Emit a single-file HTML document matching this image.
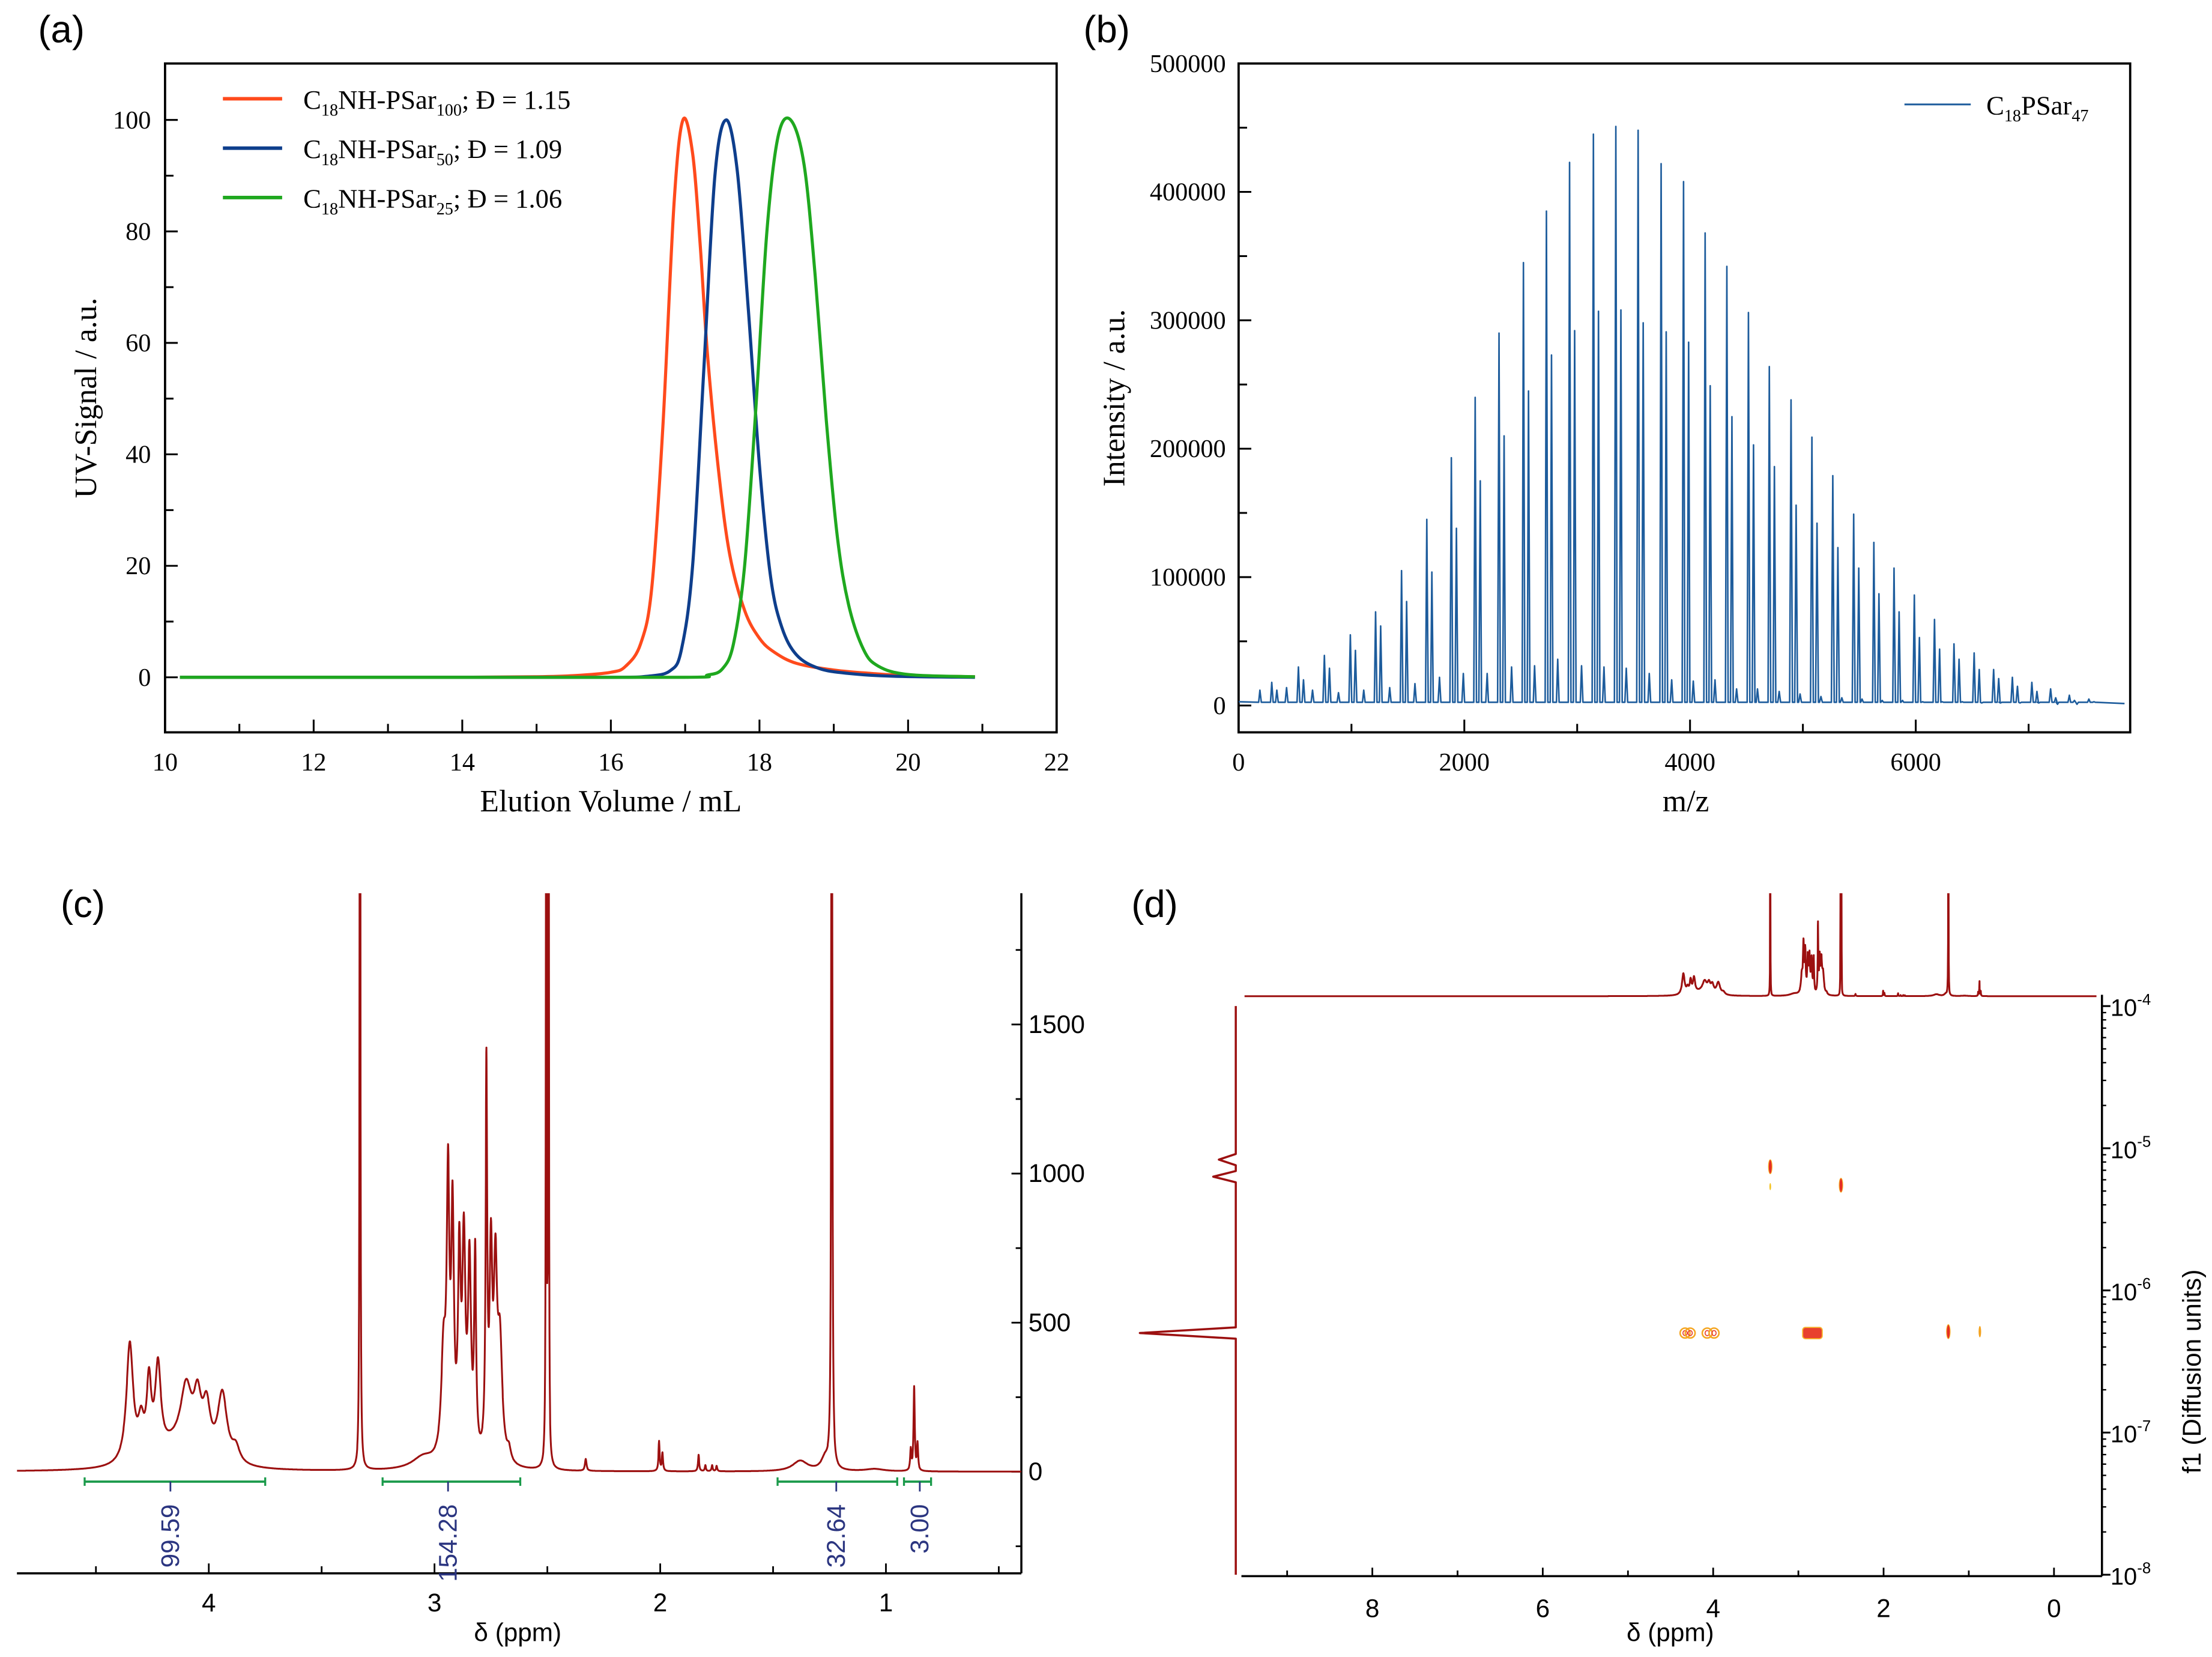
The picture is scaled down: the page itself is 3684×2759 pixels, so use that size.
<!DOCTYPE html>
<html><head><meta charset="utf-8"><style>
html,body{margin:0;padding:0;background:#fff;}
svg{display:block;}
.serif{font-family:"Liberation Serif",serif;}
.sans{font-family:"Liberation Sans","DejaVu Sans",sans-serif;}
</style></head><body>
<svg id="fig" xmlns="http://www.w3.org/2000/svg" width="3684" height="2759" viewBox="0 0 1568 1174.3">
<rect x="0" y="0" width="1568" height="1174.3" fill="#fff"/>
<defs>
<clipPath id="clipA"><rect x="117" y="45" width="632" height="474"/></clipPath>
<clipPath id="clipB"><rect x="878" y="45" width="632" height="474"/></clipPath>
<clipPath id="clipC"><rect x="12" y="633" width="712" height="482"/></clipPath>
<clipPath id="clipD"><rect x="878" y="633" width="612" height="80"/></clipPath>
</defs>
<text x="27" y="30" class="sans" font-size="27">(a)</text>
<text x="768" y="30" class="sans" font-size="27">(b)</text>
<text x="43" y="650" class="sans" font-size="27">(c)</text>
<text x="802" y="650" class="sans" font-size="27">(d)</text>
<text class="serif" font-size="22" text-anchor="middle" transform="translate(68,282) rotate(-90)">UV-Signal / a.u.</text>
<text class="serif" font-size="22" text-anchor="middle" x="433" y="575">Elution Volume / mL</text>
<text class="serif" font-size="22" text-anchor="middle" transform="translate(797,282) rotate(-90)">Intensity / a.u.</text>
<text class="serif" font-size="22" text-anchor="middle" x="1195" y="575">m/z</text>
<text class="sans" font-size="18" text-anchor="middle" x="367" y="1163">δ (ppm)</text>
<text class="sans" font-size="18" text-anchor="middle" x="1184" y="1163">δ (ppm)</text>
<text class="sans" font-size="18" text-anchor="middle" transform="translate(1560,972) rotate(-90)">f1 (Diffusion units)</text>
</svg>
<script>
// ---------- data: panel a (GPC) ----------
const gpcRedX=[10.2,12,14,15,15.5,16,16.2,16.4,16.55,16.7,16.85,16.97,17.1,17.2,17.3,17.45,17.6,17.8,18,18.2,18.5,19,19.5,20,20.9];
const gpcRedY=[0,0,0,0.1,0.3,0.9,2,6,16,45,85,100,94,78,58,37,22,12,7,4.5,2.5,1.3,0.7,0.3,0.1];
const gpcBlueX=[10.2,14,16,16.5,16.8,16.95,17.1,17.25,17.4,17.55,17.7,17.85,18,18.15,18.3,18.5,18.8,19.2,19.8,20.9];
const gpcBlueY=[0,0,0,0.2,1.2,5,20,55,90,100,91,66,38,18,9,4,1.6,0.7,0.2,0];
const gpcGreenX=[10.2,14,17,17.3,17.5,17.65,17.8,17.95,18.1,18.25,18.42,18.6,18.75,18.9,19.05,19.2,19.4,19.6,20,20.9];
const gpcGreenY=[0,0,0,0.4,1.5,6,20,48,80,97,100,92,72,46,25,13,5,2,0.5,0.1];
const xTicksA=[10,12,14,16,18,20,22];
const yTicksA=[0,20,40,60,80,100];
// ---------- data: panel b (MALDI) ----------
const msMainMz=[294,530,760,990,1214,1444,1668,1885,2096,2307,2524,2728,2933,3144,3342,3540,3744,3942,4134,4326,4518,4703,4895,5080,5265,5450,5629,5808,5987,6166,6339,6517,6690,6856,7029,7195,7361,7534];
const msMainInt=[18000,30000,39000,55000,73000,105000,145000,193000,240000,290000,345000,385000,423000,445000,451000,448000,422000,408000,368000,342000,306000,264000,238000,209000,179000,149000,127000,107000,86000,67000,48000,41000,28000,22000,18000,13000,8000,5000];
const msSecInt=[12000,20000,29000,43000,62000,81000,104000,138000,175000,210000,245000,273000,292000,307000,308000,298000,291000,283000,249000,225000,203000,186000,156000,142000,123000,107000,87000,73000,53000,44000,36000,28000,21000,15000,11000,6000,4000,3000];
const msMinorInt=[12000,14000,12000,10000,12000,14000,17000,22000,25000,25000,30000,31000,36000,31000,30000,29000,25000,20000,19000,20000,13000,13000,11000,9000,7000,6000,5000,4000,4000,3000,3000,3000,2000,2000,2000,2000,1000,1000];
const xTicksB=[0,2000,4000,6000];
const yTicksB=[0,100000,200000,300000,400000,500000];
// ---------- data: panel c/d (1H NMR) ----------
const nmrPos=[4.35,4.30,4.265,4.225,4.15,4.10,4.05,4.01,3.94,3.88,3.33,3.05,2.96,2.94,2.92,2.89,2.87,2.845,2.82,2.77,2.75,2.73,2.71,2.67,2.505,2.495,2.33,2.005,1.99,1.83,1.80,1.77,1.75,1.38,1.27,1.24,1.05,0.89,0.875,0.86];
const nmrHeight=[400,110,240,290,70,210,170,160,230,50,8000,40,350,880,780,640,690,640,660,1280,650,600,380,40,8000,8000,40,100,60,55,20,20,18,35,40,8000,8,70,280,90];
const nmrWidth=[0.018,0.015,0.012,0.015,0.1,0.03,0.02,0.02,0.025,0.02,0.0012,0.06,0.012,0.007,0.007,0.007,0.008,0.008,0.005,0.004,0.007,0.009,0.012,0.01,0.001,0.001,0.004,0.003,0.003,0.003,0.003,0.003,0.003,0.04,0.02,0.0015,0.05,0.003,0.003,0.003];
const xTicksC=[4,3,2,1];
const yTicksC=[0,500,1000,1500];
const integStart=[4.55,3.23,1.48,0.92];
const integEnd=[3.75,2.62,0.95,0.80];
const integMid=[4.17,2.94,1.22,0.85];
const integLabels=["99.59","154.28","32.64","3.00"];
// ---------- data: panel d (DOSY) ----------
const xTicksD=[8,6,4,2,0];
const yTicksD=[-4,-5,-6,-7,-8];
const projLogD=[-5.08,-5.2,-6.3];
const projHeight=[12,16,68];
const crossPpm=[4.33,4.27,4.07,3.99,2.84,1.24,0.87,3.33,3.33,2.5];
const crossLogD=[-6.3,-6.3,-6.3,-6.3,-6.3,-6.29,-6.29,-5.13,-5.27,-5.26];
const crossKind=["ring","ring","ring","ring","band","fill","thin","fill","tiny","fill"];

// ---------- helpers ----------
const NS="http://www.w3.org/2000/svg";
const svg=document.getElementById('fig');
function mk(tag,attrs,name,parent){
  const el=document.createElementNS(NS,tag);
  for(const k in attrs) el.setAttribute(k,attrs[k]);
  
  
  (parent||svg).appendChild(el);
  return el;
}
function line(x1,y1,x2,y2,name,stroke,w,p){return mk('line',{x1:x1,y1:y1,x2:x2,y2:y2,stroke:stroke||'#000','stroke-width':w||1.3},name,p);}
function txt(x,y,s,name,cls,size,anchor,fill,p){const t=mk('text',{x:x,y:y,'class':cls,'font-size':size,'text-anchor':anchor||'middle',fill:fill||'#000'},name,p);t.textContent=s;return t;}
function smooth(pts){
  let d='M'+pts[0][0].toFixed(2)+','+pts[0][1].toFixed(2);
  for(let i=0;i<pts.length-1;i++){
    const p0=pts[Math.max(i-1,0)],p1=pts[i],p2=pts[i+1],p3=pts[Math.min(i+2,pts.length-1)];
    const c1x=p1[0]+(p2[0]-p0[0])/6,c1y=p1[1]+(p2[1]-p0[1])/6;
    const c2x=p2[0]-(p3[0]-p1[0])/6,c2y=p2[1]-(p3[1]-p1[1])/6;
    d+=' C'+c1x.toFixed(2)+','+c1y.toFixed(2)+' '+c2x.toFixed(2)+','+c2y.toFixed(2)+' '+p2[0].toFixed(2)+','+p2[1].toFixed(2);
  }
  return d;
}

// ---------- panel a ----------
const ax=v=>117+(v-10)*52.67, ay=v=>480-v*3.95;
const gA=mk('g',{},'panel-a');
mk('rect',{x:117,y:45,width:632,height:474,fill:'none',stroke:'#000','stroke-width':1.6},'plot-frame-a',gA);
for(let v=10;v<=22;v++){const maj=v%2===0;line(ax(v),519,ax(v),519-(maj?9:6),maj?'x-major-tick-a':'x-minor-tick-a','#000',1.3,gA);}
xTicksA.forEach(v=>txt(ax(v),546,String(v),'x-tick-label-a','serif',18,'middle','#000',gA));
for(let v=-10;v<=110;v+=10){if(v<-5||v>105)continue;const maj=v%20===0;line(117,ay(v),117+(maj?9:6),ay(v),maj?'y-major-tick-a':'y-minor-tick-a','#000',1.3,gA);}
yTicksA.forEach(v=>txt(107,ay(v)+6,String(v),'y-tick-label-a','serif',18,'end','#000',gA));
const gClipA=mk('g',{'clip-path':'url(#clipA)'},'series-group-a',gA);
[[gpcRedX,gpcRedY,'#ff4a1c','series-psar100'],[gpcBlueX,gpcBlueY,'#0e3e8c','series-psar50'],[gpcGreenX,gpcGreenY,'#1fa81f','series-psar25']].forEach(s=>{
  const pts=s[0].map((x,i)=>[ax(x),ay(s[1][i])]);
  mk('path',{d:smooth(pts),fill:'none',stroke:s[2],'stroke-width':2.2},s[3],gClipA);
});
const legA=[['#ff4a1c','100','; Đ = 1.15'],['#0e3e8c','50','; Đ = 1.09'],['#1fa81f','25',';  Đ = 1.06']];
legA.forEach((L,i)=>{
  const y=70+i*35;
  line(158,y,200,y,'legend-line-a',L[0],2.5,gA);
  const t=mk('text',{x:215,y:y+7,'class':'serif','font-size':19},'legend-entry-a',gA);
  t.innerHTML='C<tspan font-size="12" dy="5">18</tspan><tspan dy="-5">NH-PSar</tspan><tspan font-size="12" dy="5">'+L[1]+'</tspan><tspan dy="-5">'+L[2]+'</tspan>';
});

// ---------- panel b ----------
const bx=v=>878+v*0.08, by=v=>500-v*0.00091;
const gB=mk('g',{},'panel-b');
mk('rect',{x:878,y:45,width:632,height:474,fill:'none',stroke:'#000','stroke-width':1.6},'plot-frame-b',gB);
for(let v=0;v<=7000;v+=1000){const maj=v%2000===0;line(bx(v),519,bx(v),519-(maj?9:6),maj?'x-major-tick-b':'x-minor-tick-b','#000',1.3,gB);}
xTicksB.forEach(v=>txt(bx(v),546,String(v),'x-tick-label-b','serif',18,'middle','#000',gB));
for(let v=0;v<=500000;v+=50000){const maj=v%100000===0;line(878,by(v),878+(maj?9:6),by(v),maj?'y-major-tick-b':'y-minor-tick-b','#000',1.3,gB);}
yTicksB.forEach(v=>txt(869,by(v)+6,String(v),'y-tick-label-b','serif',18,'end','#000',gB));
let peaks=[];
msMainMz.forEach((m,i)=>{peaks.push([m,msMainInt[i]]);peaks.push([m+45,msSecInt[i]]);peaks.push([m-105,msMinorInt[i]]);});
peaks=peaks.filter(p=>p[0]>10).sort((a,b)=>a[0]-b[0]);
let dB='M'+bx(0).toFixed(1)+','+by(3000).toFixed(1);
peaks.forEach(p=>{dB+=' L'+bx(p[0]-12).toFixed(1)+','+by(2500).toFixed(1)+' L'+bx(p[0]).toFixed(1)+','+by(p[1]).toFixed(1)+' L'+bx(p[0]+12).toFixed(1)+','+by(2500).toFixed(1);});
dB+=' L'+bx(7850).toFixed(1)+','+by(1500).toFixed(1);
const gClipB=mk('g',{'clip-path':'url(#clipB)'},'series-group-b',gB);
mk('path',{d:dB,fill:'none',stroke:'#1d5c9c','stroke-width':1.1,'stroke-linejoin':'round'},'maldi-spectrum',gClipB);
line(1350,74,1397,74,'legend-line-b','#1d5c9c',1.3,gB);
const tB=mk('text',{x:1408,y:81,'class':'serif','font-size':19},'legend-entry-b',gB);
tB.innerHTML='C<tspan font-size="12" dy="5">18</tspan><tspan dy="-5">PSar</tspan><tspan font-size="12" dy="5">47</tspan>';

// ---------- NMR synth ----------
function nmrVal(p){let s=0;for(let i=0;i<nmrPos.length;i++){const w=nmrWidth[i],d=p-nmrPos[i];s+=nmrHeight[i]*w*w/(d*d+w*w);}return s;}
function nmrPath(xf,yf,p0,p1,step){
  let pts=[];for(let p=p0;p>=p1;p-=step)pts.push(p);
  nmrPos.forEach(p=>{if(p<=p0&&p>=p1)pts.push(p);});
  pts.sort((a,b)=>b-a);
  let d='';pts.forEach(p=>{d+=(d?' L':'M')+xf(p).toFixed(1)+','+Math.max(yf(nmrVal(p)),600).toFixed(1);});return d;}

// ---------- panel c ----------
const cx=p=>148+(4-p)*160, cy=v=>1043-v*0.2113;
const gC=mk('g',{},'panel-c');
line(12,1115,724,1115,'x-axis-c','#000',1.5,gC);
line(724,633,724,1115,'y-axis-c','#000',1.5,gC);
for(let p=0.5;p<=4.5;p+=0.5){const maj=Math.abs(p-Math.round(p))<1e-6;line(cx(p),1115,cx(p),1115-(maj?7:5),maj?'x-major-tick-c':'x-minor-tick-c','#000',1.2,gC);}
xTicksC.forEach(p=>txt(cx(p),1142,String(p),'x-tick-label-c','sans',18,'middle','#000',gC));
for(let v=-250;v<=1750;v+=250){const maj=v%500===0;line(724,cy(v),724-(maj?7:4),cy(v),maj?'y-major-tick-c':'y-minor-tick-c','#000',1.2,gC);}
yTicksC.forEach(v=>txt(729,cy(v)+6,String(v),'y-tick-label-c','sans',18,'start','#000',gC));
const gClipC=mk('g',{'clip-path':'url(#clipC)'},'series-group-c',gC);
mk('path',{d:nmrPath(cx,cy,4.85,0.4,0.0012),fill:'none',stroke:'#9c1010','stroke-width':1.3,'stroke-linejoin':'round'},'nmr-spectrum',gClipC);
integStart.forEach((s,i)=>{
  const y=1050;
  line(cx(s),y,cx(integEnd[i]),y,'integral-bracket','#1a9a4a',1.6,gC);
  line(cx(s),y-3,cx(s),y+3,'integral-bracket-end','#1a9a4a',1.4,gC);
  line(cx(integEnd[i]),y-3,cx(integEnd[i]),y+3,'integral-bracket-end','#1a9a4a',1.4,gC);
  line(cx(integMid[i]),y,cx(integMid[i]),y+7,'integral-marker','#2b3580',1.2,gC);
  const t=mk('text',{'class':'sans','font-size':18,'text-anchor':'end',fill:'#2b3580',transform:'translate('+(cx(integMid[i])+6)+','+(1066)+') rotate(-90)'},'integral-label',gC);
  t.textContent=integLabels[i];
});

// ---------- panel d ----------
const dx=p=>1456-p*60.4, dty=v=>706-v*0.0373, dy=l=>713+(-4-l)*100.75;
const gD=mk('g',{},'panel-d');
line(880,1117,1490,1117,'x-axis-d','#000',1.5,gD);
line(1490,705,1490,1117,'y-axis-d','#000',1.5,gD);
for(let p=0;p<=9;p++){const maj=p%2===0;line(dx(p),1117,dx(p),1117-(maj?6:4),maj?'x-major-tick-d':'x-minor-tick-d','#000',1.2,gD);}
xTicksD.forEach(p=>txt(dx(p),1146,String(p),'x-tick-label-d','sans',18,'middle','#000',gD));
for(let e=-8;e<-4;e++){for(let m=2;m<=9;m++){const y=dy(e+Math.log10(m));line(1490,y,1493,y,'y-minor-tick-d','#000',1,gD);}}
yTicksD.forEach(e=>{
  line(1490,dy(e),1496,dy(e),'y-major-tick-d','#000',1.3,gD);
  const t=mk('text',{x:1496,y:dy(e)+7,'class':'sans','font-size':17},'y-tick-label-d',gD);
  t.innerHTML='10<tspan font-size="11" dy="-8">'+e+'</tspan>';
});
const gClipD=mk('g',{'clip-path':'url(#clipD)'},'series-group-d',gD);
mk('path',{d:nmrPath(dx,dty,9.5,-0.5,0.003),fill:'none',stroke:'#9c1010','stroke-width':1.3,'stroke-linejoin':'round'},'dosy-projection-top',gClipD);
let order=projLogD.map((l,i)=>i).sort((a,b)=>projLogD[b]-projLogD[a]);
let dP='M876,'+dy(-4.0).toFixed(1);
order.forEach(i=>{const y=dy(projLogD[i]);dP+=' L876,'+(y-4).toFixed(1)+' L'+(876-projHeight[i]).toFixed(1)+','+y.toFixed(1)+' L876,'+(y+4).toFixed(1);});
dP+=' L876,'+dy(-8.0).toFixed(1);
mk('path',{d:dP,fill:'none',stroke:'#9c1010','stroke-width':1.5,'stroke-linejoin':'round'},'dosy-projection-left',gD);
crossPpm.forEach((p,i)=>{
  const x=dx(p),y=dy(crossLogD[i]),k=crossKind[i];
  if(k==='ring'){mk('ellipse',{cx:x,cy:y,rx:3.5,ry:3.5,fill:'none',stroke:'#f5a623','stroke-width':1.1},'cross-peak',gD);
    mk('ellipse',{cx:x,cy:y,rx:1.5,ry:1.8,fill:'none',stroke:'#e83a2a','stroke-width':0.7},'cross-peak-core',gD);}
  else if(k==='band'){mk('rect',{x:dx(2.95),y:y-4,width:dx(2.72)-dx(2.95),height:8,rx:2,fill:'#e8402e',stroke:'#f7b32b','stroke-width':0.8},'cross-peak',gD);}
  else if(k==='fill'){mk('ellipse',{cx:x,cy:y,rx:1.3,ry:5,fill:'#e52e25',stroke:'#f7b32b','stroke-width':0.5},'cross-peak',gD);}
  else if(k==='thin'){mk('ellipse',{cx:x,cy:y,rx:0.9,ry:4,fill:'#f4a21e'},'cross-peak',gD);}
  else {mk('ellipse',{cx:x,cy:y,rx:0.6,ry:2.5,fill:'#f4c21e'},'cross-peak',gD);}
});
</script>
</body></html>
